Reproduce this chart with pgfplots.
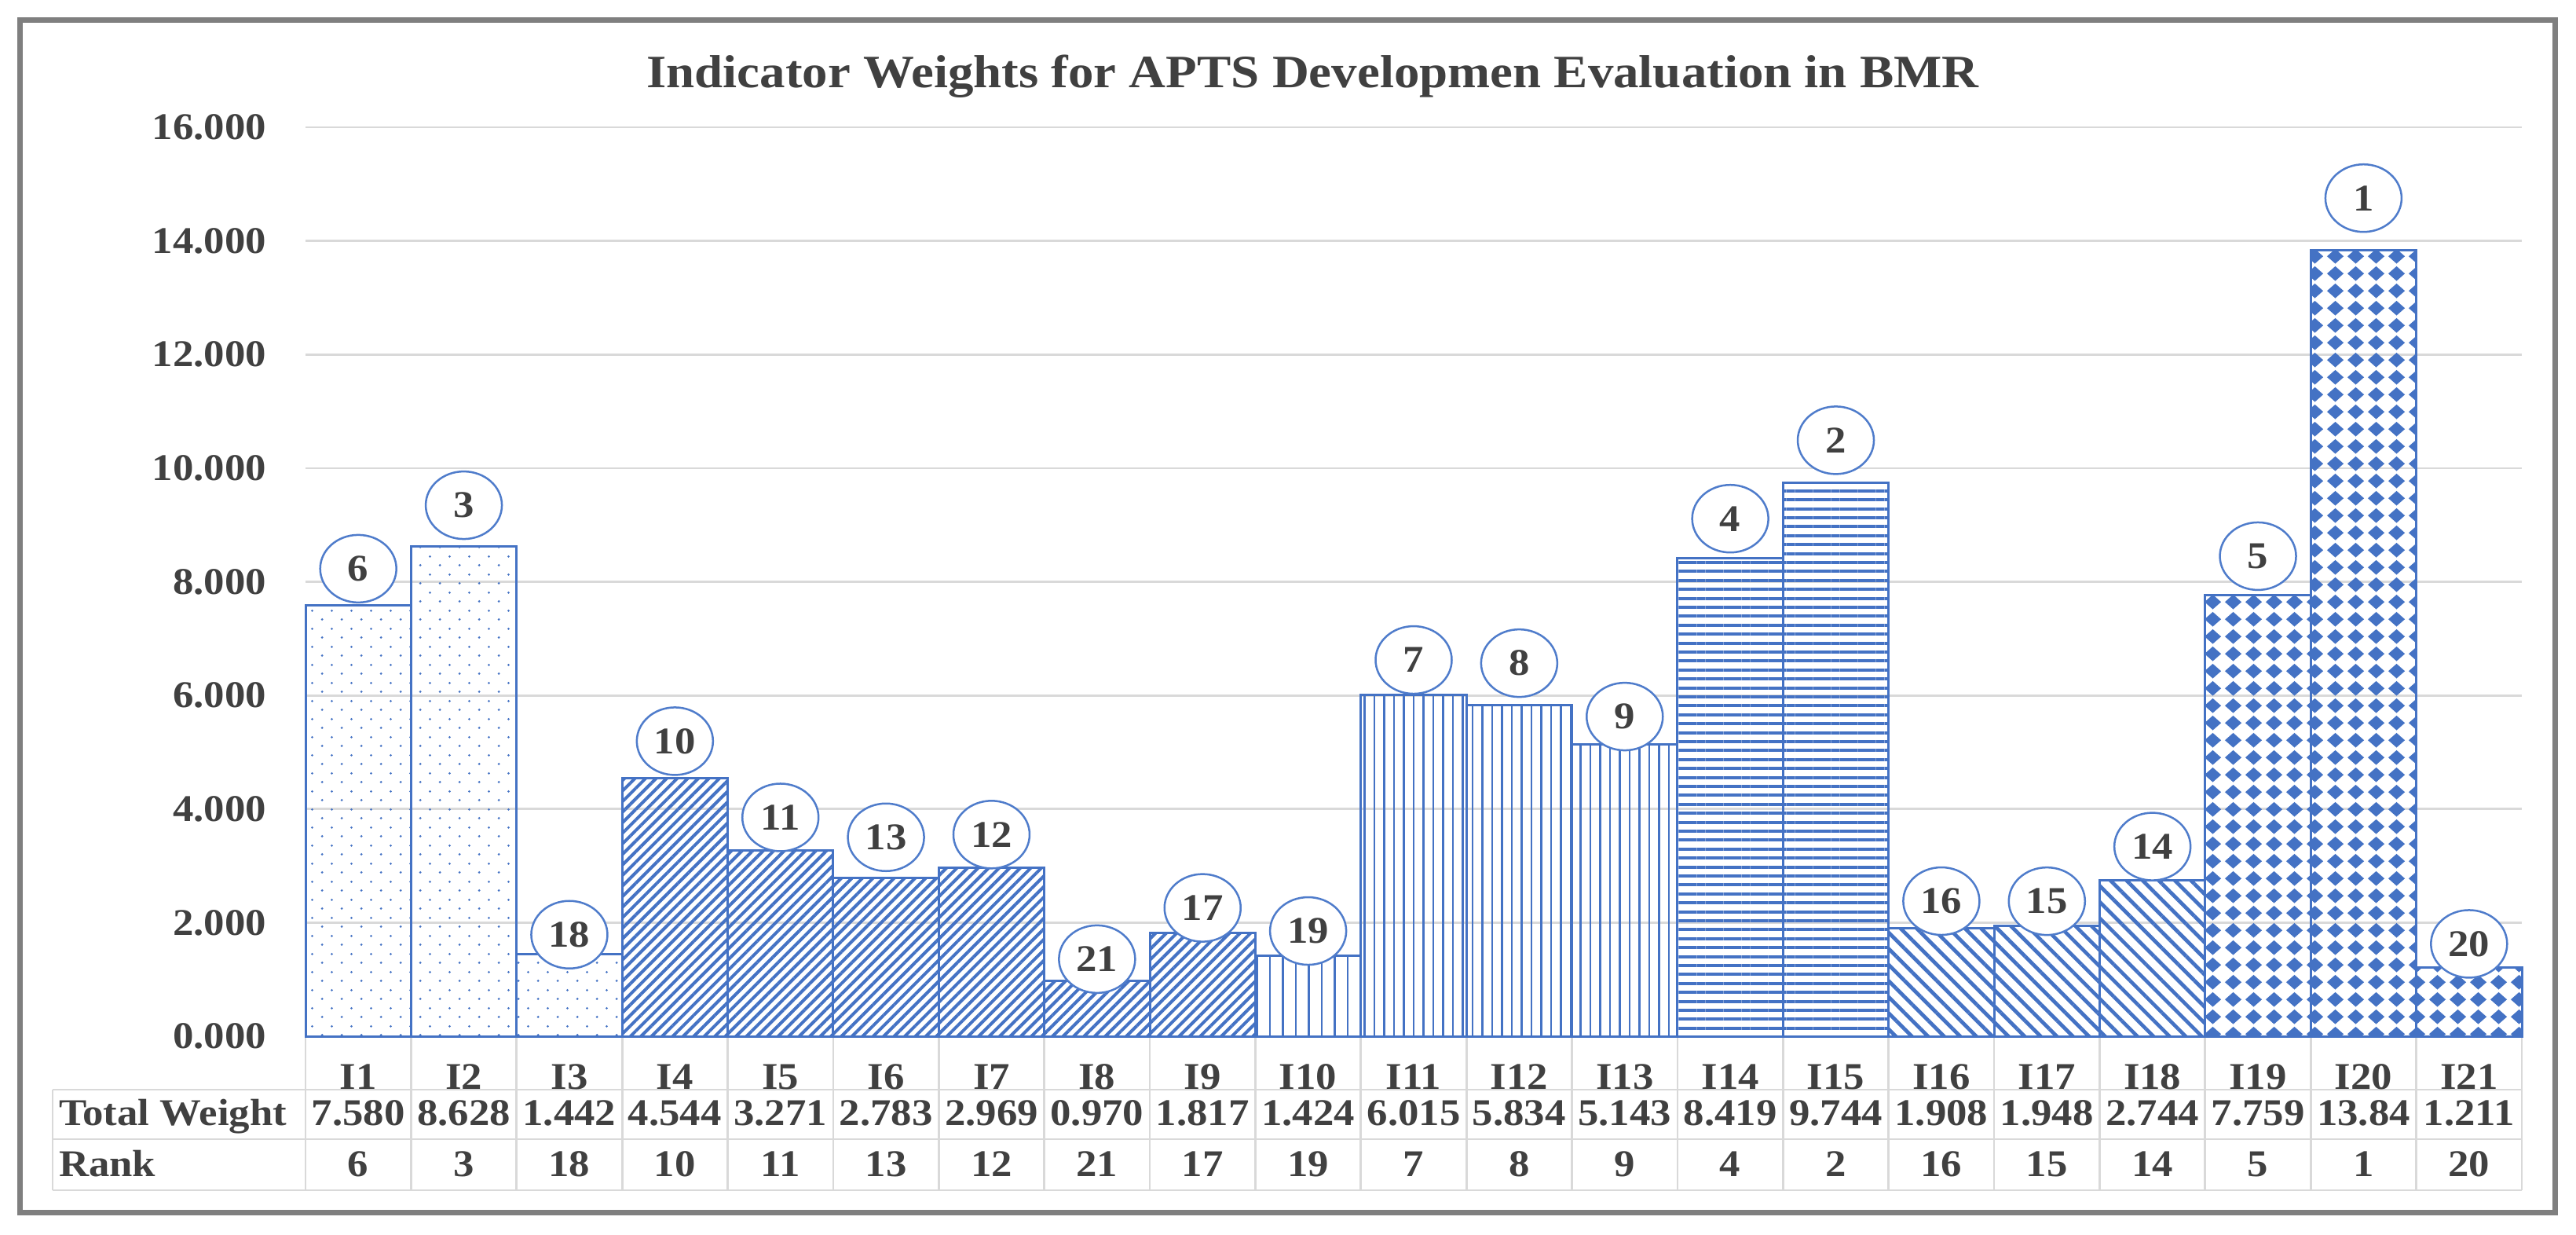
\documentclass[border=0pt]{standalone}
\usepackage{fontspec}
\setmainfont{Liberation Serif}[FakeStretch=1.1]
\usepackage{pgfplots}
\pgfplotsset{compat=1.18}
\usepackage{pgfplotstable}
\usetikzlibrary{patterns.meta,shapes.geometric}

\definecolor{barblue}{HTML}{4472C4}
\definecolor{circblue}{HTML}{4F7CCB}
\definecolor{gridgray}{HTML}{D9D9D9}
\definecolor{framegray}{HTML}{7F7F7F}
\definecolor{txtgray}{HTML}{404040}

\tikzdeclarepattern{
  name=sparsedots, type=uncolored,
  bounding box={(0pt,0pt) and (5.06pt,4.52pt)},
  tile size={(5.06pt,4.52pt)},
  code={
    \fill (1.265pt,1.13pt) circle (0.32pt);
    \fill (3.795pt,3.39pt) circle (0.32pt);
  }
}
\tikzdeclarepattern{
  name=diamonds, type=uncolored,
  bounding box={(0pt,0pt) and (5.1pt,4.45pt)},
  tile size={(5.1pt,4.45pt)},
  code={
    \fill (2.55pt,0.3pt) -- (4.7pt,2.225pt) -- (2.55pt,4.15pt) -- (0.4pt,2.225pt) -- cycle;
  }
}

% x = indicator index, w = total weight, r = rank, off = label lift (pt)
\pgfplotstableread{
x w r off
0 7.580 6 9.4
1 8.628 3 10.4
2 1.442 18 5.0
}\grpdots
\pgfplotstableread{
x w r off
3 4.544 10 9.4
4 3.271 11 8.4
5 2.783 13 10.4
6 2.969 12 8.4
7 0.970 21 5.6
8 1.817 17 6.4
}\grpne
\pgfplotstableread{
x w r off
9 1.424 19 6.2
}\grpvlight
\pgfplotstableread{
x w r off
10 6.015 7 8.8
11 5.834 8 10.6
12 5.143 9 7.0
}\grpvert
\pgfplotstableread{
x w r off
13 8.419 4 10.0
14 9.744 2 10.8
}\grphor
\pgfplotstableread{
x w r off
15 1.908 16 6.8
16 1.948 15 6.2
17 2.744 14 8.6
}\grpnw
\pgfplotstableread{
x w r off
18 7.759 5 10.0
19 13.84 1 13.2
20 1.211 20 6.0
}\grpdia

\newcommand{\tfont}{\fontsize{9.6}{11}\selectfont\bfseries}

\begin{document}
\begin{tikzpicture}
\path[use as bounding box] (0pt,0pt) rectangle (656pt,314.2pt);
\fill[white] (0pt,0pt) rectangle (656pt,314.2pt);

% table grid
\foreach \k in {0,...,21} {
  \draw[gridgray, line width=0.55pt] ({77.8pt+\k*26.876pt},50.4pt) -- ({77.8pt+\k*26.876pt},11.2pt);
}
\draw[gridgray, line width=0.55pt] (13.4pt,36.8pt) -- (13.4pt,11.2pt);
\foreach \yy in {36.8,24.2,11.2} {
  \draw[gridgray, line width=0.55pt] (13.4pt,\yy pt) -- (642.2pt,\yy pt);
}

\begin{axis}[
  at={(77.8pt,50.4pt)}, anchor=south west,
  scale only axis, width=564.4pt, height=231.4pt,
  xmin=-0.5, xmax=20.5, ymin=0, ymax=16,
  ybar, bar width=1,
  clip=false,
  axis line style={draw=none},
  tick style={draw=none},
  ymajorgrids, grid style={draw=gridgray, line width=0.55pt},
  ytick={0,2,...,16},
  yticklabel style={anchor=east, inner sep=0pt, xshift=-9.8pt, font=\tfont, text=txtgray,
    /pgf/number format/fixed, /pgf/number format/fixed zerofill,
    /pgf/number format/precision=3, /pgf/number format/assume math mode=true},
  xtick={0,...,20},
  xticklabels={I1,I2,I3,I4,I5,I6,I7,I8,I9,I10,I11,I12,I13,I14,I15,I16,I17,I18,I19,I20,I21},
  xticklabel style={anchor=base, inner sep=0pt, yshift=-9.3pt, font=\tfont, text=txtgray},
  nodes near coords,
  point meta=explicit symbolic,
  visualization depends on={\thisrow{off} \as \myoff},
  nodes near coords style={ellipse, draw=circblue, fill=white, line width=0.5pt,
    minimum width=19.4pt, minimum height=17.2pt, inner sep=0pt, anchor=center,
    yshift=\myoff*1pt, font=\tfont, text=txtgray},
]
\addplot[draw=barblue, line width=0.6pt, bar shift=0pt, pattern=sparsedots, pattern color=barblue]
  table[x=x, y=w, meta=r] {\grpdots};
\addplot[draw=barblue, line width=0.6pt, bar shift=0pt, pattern={Lines[angle=45,distance=1.9pt,line width=0.8pt]}, pattern color=barblue]
  table[x=x, y=w, meta=r] {\grpne};
\addplot[draw=barblue, line width=0.6pt, bar shift=0pt, pattern={Lines[angle=90,distance=3.3pt,line width=0.5pt]}, pattern color=barblue]
  table[x=x, y=w, meta=r] {\grpvlight};
\addplot[draw=barblue, line width=0.6pt, bar shift=0pt, pattern={Lines[angle=90,distance=2.5pt,line width=0.5pt]}, pattern color=barblue]
  table[x=x, y=w, meta=r] {\grpvert};
\addplot[draw=barblue, line width=0.6pt, bar shift=0pt, pattern={Lines[angle=0,distance=2.28pt,line width=0.8pt]}, pattern color=barblue]
  table[x=x, y=w, meta=r] {\grphor};
\addplot[draw=barblue, line width=0.6pt, bar shift=0pt, pattern={Lines[angle=-45,distance=2.9pt,line width=0.95pt]}, pattern color=barblue]
  table[x=x, y=w, meta=r] {\grpnw};
\addplot[draw=barblue, line width=0.6pt, bar shift=0pt, pattern=diamonds, pattern color=barblue]
  table[x=x, y=w, meta=r] {\grpdia};
\end{axis}

% table text rows
\node[anchor=base west, inner sep=0pt, font=\tfont, text=txtgray] at (14.8pt,27.8pt) {Total Weight};
\node[anchor=base west, inner sep=0pt, font=\tfont, text=txtgray] at (14.8pt,14.8pt) {Rank};
\foreach \v [count=\i from 0] in {7.580,8.628,1.442,4.544,3.271,2.783,2.969,0.970,1.817,1.424,6.015,5.834,5.143,8.419,9.744,1.908,1.948,2.744,7.759,13.84,1.211} {
  \node[anchor=base, inner sep=0pt, font=\tfont, text=txtgray] at ({77.8pt+(\i+0.5)*26.876pt},27.8pt) {\v};
}
\foreach \v [count=\i from 0] in {6,3,18,10,11,13,12,21,17,19,7,8,9,4,2,16,15,14,5,1,20} {
  \node[anchor=base, inner sep=0pt, font=\tfont, text=txtgray] at ({77.8pt+(\i+0.5)*26.876pt},14.8pt) {\v};
}

% title
\node[anchor=base, inner sep=0pt, font=\fontsize{11.8}{14}\selectfont\bfseries, text=txtgray]
  at (334.3pt,291.8pt) {Indicator Weights for APTS Developmen Evaluation in BMR};

% outer frame
\draw[framegray, line width=1.4pt] (5.0pt,5.5pt) rectangle (650.6pt,309.1pt);
\end{tikzpicture}
\end{document}
